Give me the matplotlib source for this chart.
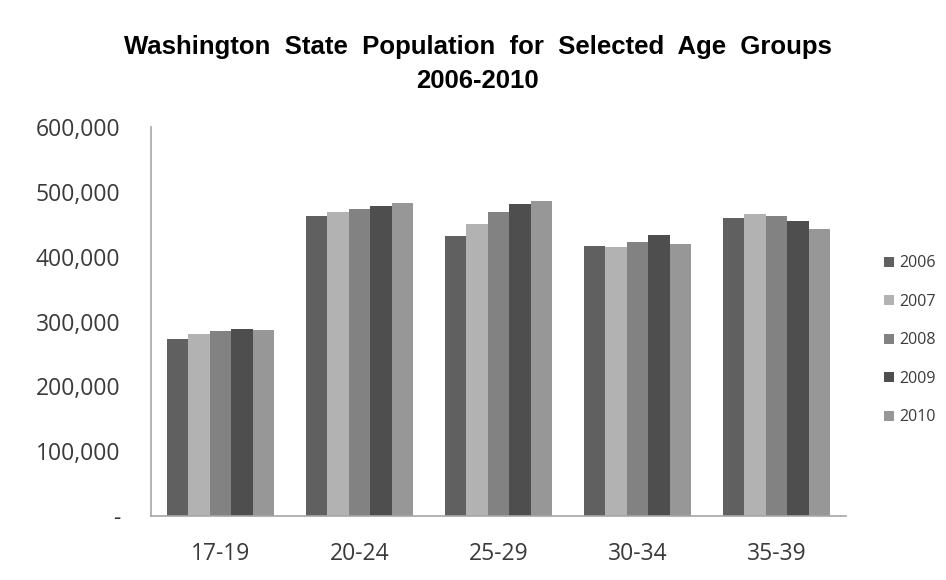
import numpy as np
import matplotlib
matplotlib.use("Agg")
from matplotlib import pyplot as plt
from matplotlib.ticker import FuncFormatter

age_groups = ["17-19", "20-24", "25-29", "30-34", "35-39"]
years = ["2006", "2007", "2008", "2009", "2010"]

pop_2006 = [272700, 463000, 432600, 416700, 460400]
pop_2007 = [280000, 469600, 450000, 415600, 466000]
pop_2008 = [286000, 474000, 468600, 422800, 463000]
pop_2009 = [288600, 478000, 481000, 433600, 454800]
pop_2010 = [286500, 482500, 486600, 419300, 442400]

colors = ["#606060", "#b2b2b2", "#828282", "#4e4e4e", "#979797"]

series = [pop_2006, pop_2007, pop_2008, pop_2009, pop_2010]

fig = plt.figure(figsize=(9.46, 5.8), dpi=100)
ax = fig.add_axes([0.1596, 0.1103, 0.7347, 0.6707])

x = np.arange(len(age_groups))
group_w = 0.77
bar_w = group_w / len(years)

for i, (yr, vals) in enumerate(zip(years, series)):
    offs = -group_w / 2 + bar_w * (i + 0.5)
    ax.bar(x + offs, vals, width=bar_w, color=colors[i], label=yr,
           edgecolor="none")

ax.set_xlim(-0.5, len(age_groups) - 0.5)
ax.set_ylim(0, 600000)
ax.set_yticks(np.arange(0, 600001, 100000))


def fmt(v, pos):
    if v == 0:
        return "-"
    return f"{int(v):,}"


ax.yaxis.set_major_formatter(FuncFormatter(fmt))
ax.set_xticks(x)
ax.set_xticklabels(age_groups)

for side in ["top", "right"]:
    ax.spines[side].set_visible(False)
for side in ["left", "bottom"]:
    ax.spines[side].set_color("#a6a6a6")
    ax.spines[side].set_linewidth(1.2)

ax.tick_params(axis="y", length=0, pad=22, labelsize=16.5, colors="#3a3a3a")
ax.tick_params(axis="x", length=0, pad=19, labelsize=16.5, colors="#3a3a3a")
for lbl in ax.get_yticklabels() + ax.get_xticklabels():
    lbl.set_fontfamily("Open Sans")

# the original title has wide word gaps
fig.suptitle("Washington  State  Population  for  Selected  Age  Groups\n2006-2010",
             x=0.505, y=0.94, fontsize=18.5, fontweight="bold",
             family="Liberation Sans", linespacing=1.52)

leg = fig.legend(loc="upper left", bbox_to_anchor=(0.928, 0.571),
                 frameon=False, fontsize=11.5, handlelength=0.6, handleheight=0.6,
                 handletextpad=0.35, labelspacing=1.41, borderaxespad=0)
for t in leg.get_texts():
    t.set_color("#3a3a3a")
    t.set_fontfamily("Open Sans")

fig.savefig("out.png", dpi=100)
